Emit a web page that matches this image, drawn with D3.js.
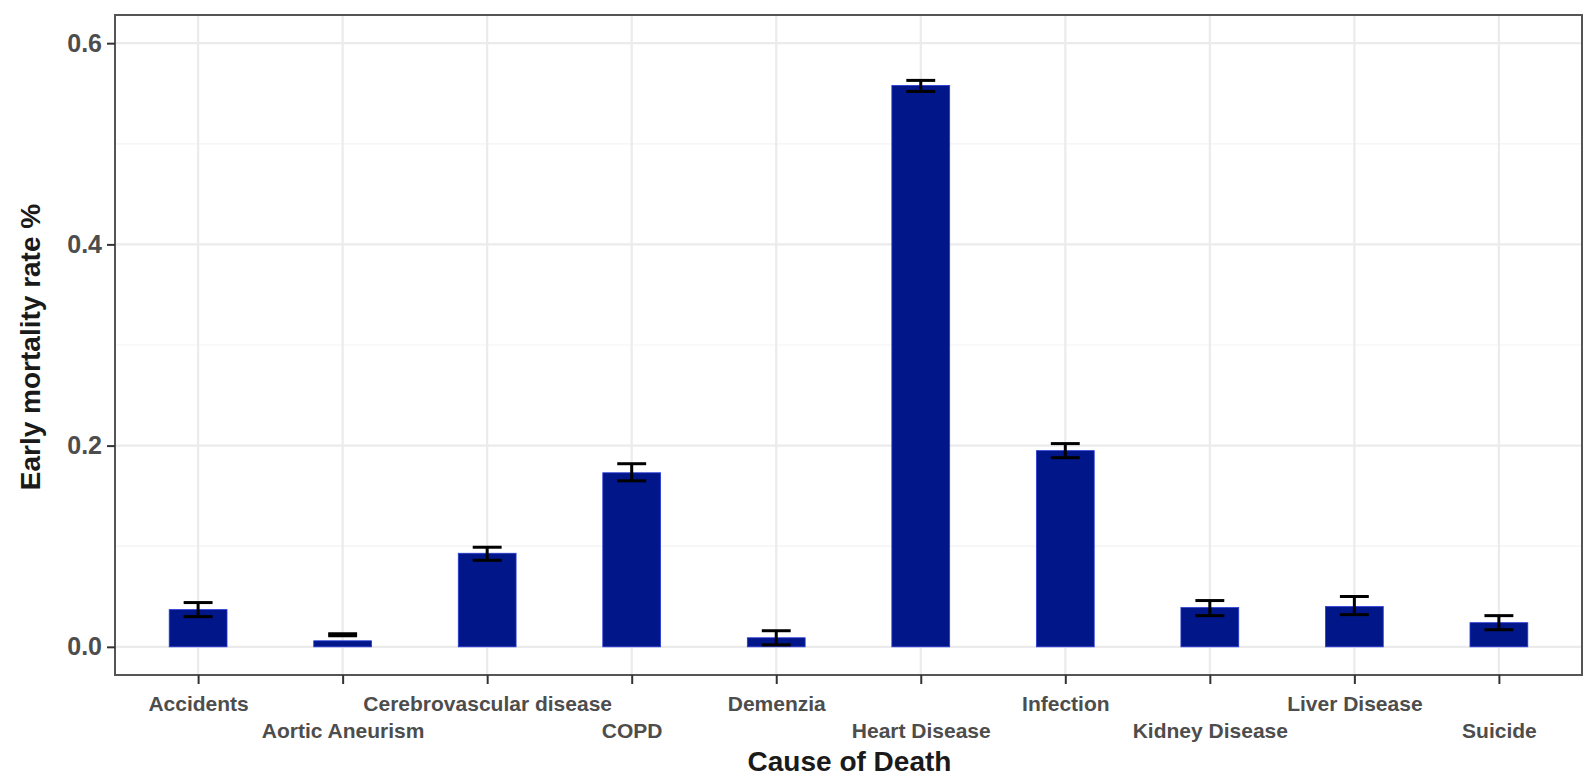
<!DOCTYPE html>
<html>
<head>
<meta charset="utf-8">
<script src="https://cdn.jsdelivr.net/npm/d3@7"></script>
<style>
    body { margin: 0; background: #fff; }
    text { font-family: "Liberation Sans", Arial, sans-serif; }
</style>
</head>
<body>
<div class="chart_chart"></div>
<script>
// data
const causes = ['Accidents', 'Aortic Aneurism', 'Cerebrovascular disease', 'COPD', 'Demenzia',
    'Heart Disease', 'Infection', 'Kidney Disease', 'Liver Disease', 'Suicide'];
const rates = [0.037, 0.006, 0.093, 0.173, 0.009, 0.558, 0.195, 0.039, 0.040, 0.024];
const lower = [0.030, 0.011, 0.086, 0.165, 0.002, 0.552, 0.188, 0.031, 0.032, 0.017];
const upper = [0.044, 0.013, 0.099, 0.182, 0.016, 0.563, 0.202, 0.046, 0.050, 0.031];
const yTicks = [0, 0.2, 0.4, 0.6];
const yMinor = [0.1, 0.3, 0.5];

(function () {
    const width = 1583, height = 778;
    const padding = { top: 15, right: 1, bottom: 103, left: 115 };
    const innerWidth = width - padding.left - padding.right;
    const innerHeight = height - padding.top - padding.bottom;

    const svg = d3.select(".chart_chart").append("svg").attr("width", width).attr("height", height);
    const g = svg.append("g").attr("transform", `translate(${padding.left},${padding.top})`);

    const xScale = d3.scalePoint().domain(causes).range([0, innerWidth]).padding(0.575);
    const step = xScale.step();
    const yScale = d3.scaleLinear().domain([-0.028, 0.628]).range([innerHeight, 0]);

    // grid
    g.selectAll(".minor").data(yMinor).enter().append("line")
        .attr("x1", 0).attr("x2", innerWidth)
        .attr("y1", d => yScale(d)).attr("y2", d => yScale(d))
        .attr("stroke", "#f3f3f3").attr("stroke-width", 1.2);
    g.selectAll(".major").data(yTicks).enter().append("line")
        .attr("x1", 0).attr("x2", innerWidth)
        .attr("y1", d => yScale(d)).attr("y2", d => yScale(d))
        .attr("stroke", "#ebebeb").attr("stroke-width", 2.2);
    g.selectAll(".vgrid").data(causes).enter().append("line")
        .attr("x1", d => xScale(d)).attr("x2", d => xScale(d))
        .attr("y1", 0).attr("y2", innerHeight)
        .attr("stroke", "#ebebeb").attr("stroke-width", 2.2);

    // bars
    const barW = step * 0.4;
    g.selectAll(".bar").data(rates).enter().append("rect")
        .attr("x", (d, i) => xScale(causes[i]) - barW / 2)
        .attr("y", d => yScale(d))
        .attr("width", barW)
        .attr("height", d => yScale(0) - yScale(d))
        .attr("fill", "#011689")
        .attr("stroke", "#2a3ad6").attr("stroke-width", 0.8);

    // error bars
    const capW = step * 0.2;
    const eb = g.selectAll(".err").data(causes).enter().append("g").attr("stroke", "#000").attr("stroke-width", 3);
    eb.append("line")
        .attr("x1", d => xScale(d)).attr("x2", d => xScale(d))
        .attr("y1", (d, i) => yScale(lower[i])).attr("y2", (d, i) => yScale(upper[i]));
    eb.append("line")
        .attr("x1", d => xScale(d) - capW / 2).attr("x2", d => xScale(d) + capW / 2)
        .attr("y1", (d, i) => yScale(upper[i])).attr("y2", (d, i) => yScale(upper[i]));
    eb.append("line")
        .attr("x1", d => xScale(d) - capW / 2).attr("x2", d => xScale(d) + capW / 2)
        .attr("y1", (d, i) => yScale(lower[i])).attr("y2", (d, i) => yScale(lower[i]));

    // panel border
    g.append("rect").attr("x", 0).attr("y", 0).attr("width", innerWidth).attr("height", innerHeight)
        .attr("fill", "none").attr("stroke", "#555").attr("stroke-width", 2);

    // y axis
    const yAxis = g.append("g").call(d3.axisLeft(yScale).tickValues(yTicks).tickFormat(d3.format(".1f")).tickSize(8).tickPadding(5));
    yAxis.select(".domain").remove();
    yAxis.selectAll(".tick line").attr("stroke", "#333").attr("stroke-width", 2);
    yAxis.selectAll(".tick text").attr("font-size", 25).attr("font-weight", "bold").attr("fill", "#4d4d4d")
        .attr("font-family", "Liberation Sans, Arial, sans-serif");

    // x axis
    const xAxis = g.append("g").attr("transform", `translate(0, ${innerHeight})`)
        .call(d3.axisBottom(xScale).tickSize(9).tickPadding(0));
    xAxis.select(".domain").remove();
    xAxis.selectAll(".tick line").attr("stroke", "#333").attr("stroke-width", 2);
    xAxis.selectAll(".tick text").attr("font-size", 21).attr("font-weight", "bold").attr("fill", "#4d4d4d")
        .attr("font-family", "Liberation Sans, Arial, sans-serif")
        .attr("dy", null)
        .attr("y", (d, i) => i % 2 === 0 ? 36 : 63);

    // titles
    svg.append("text").attr("x", padding.left + innerWidth / 2 + 1).attr("y", 771)
        .attr("text-anchor", "middle").attr("font-size", 28).attr("font-weight", "bold").attr("fill", "#1a1a1a")
        .text("Cause of Death");
    svg.append("text").attr("transform", `translate(40, ${padding.top + innerHeight / 2 + 2}) rotate(-90)`)
        .attr("text-anchor", "middle").attr("font-size", 28).attr("font-weight", "bold").attr("fill", "#1a1a1a")
        .text("Early mortality rate %");
})();
</script>
</body>
</html>
